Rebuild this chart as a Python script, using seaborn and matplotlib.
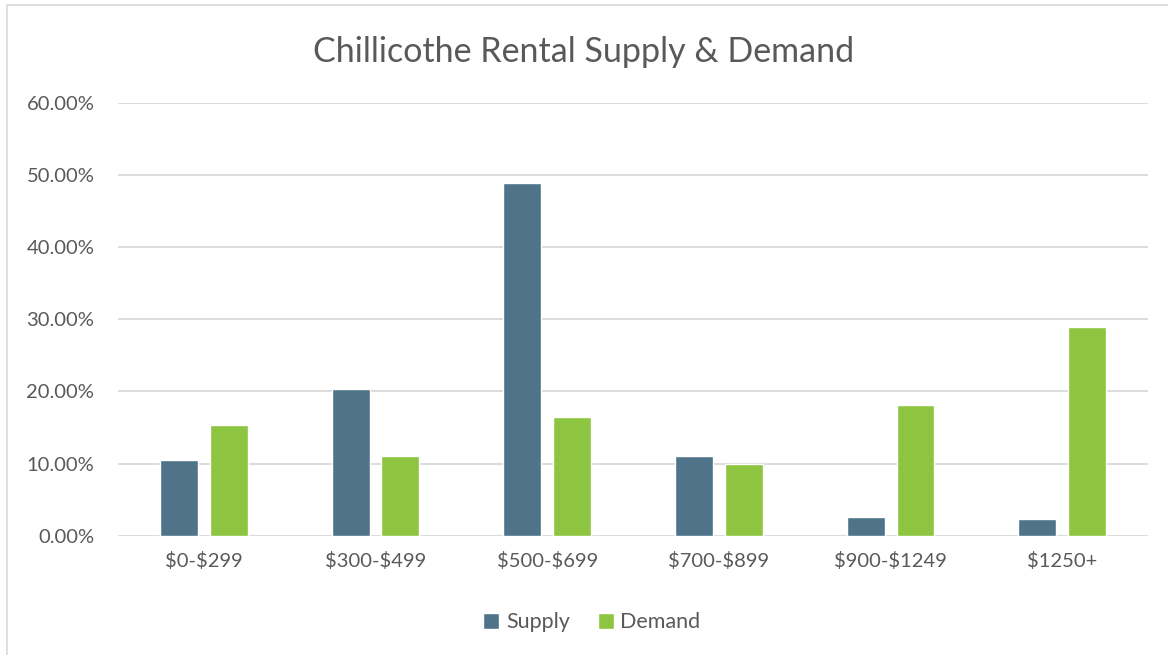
import matplotlib
matplotlib.use("Agg")
import matplotlib.pyplot as plt
import matplotlib.patches as mpatches
import seaborn as sns
import pandas as pd
from matplotlib.ticker import PercentFormatter

# data
price_bands = ["$0-$299", "$300-$499", "$500-$699", "$700-$899", "$900-$1249", "$1250+"]
supply = [0.105, 0.204, 0.489, 0.111, 0.026, 0.023]
demand = [0.154, 0.111, 0.165, 0.100, 0.181, 0.289]
series_names = ["Supply", "Demand"]

df = pd.DataFrame({
    "band": price_bands * 2,
    "share": supply + demand,
    "series": [series_names[0]] * len(price_bands) + [series_names[1]] * len(price_bands),
})

sns.set_theme(style="white")
plt.rcParams["font.family"] = ["Lato", "DejaVu Sans"]
text_color = "#595959"

fig = plt.figure(figsize=(11.68, 6.55), dpi=100)
ax = fig.add_axes([0.101, 0.182, 0.882, 0.661])

sns.barplot(data=df, x="band", y="share", hue="series",
            palette=["#4f7489", "#8dc540"], saturation=1, width=0.58, gap=0.24,
            ax=ax, legend=True)

ax.set_ylim(0, 0.6)
ax.set_yticks([0, 0.1, 0.2, 0.3, 0.4, 0.5, 0.6])
ax.yaxis.set_major_formatter(PercentFormatter(1.0, decimals=2))
ax.grid(axis="y", color="#d9d9d9", linewidth=1.3)
ax.set_axisbelow(True)
for s in ax.spines.values():
    s.set_visible(False)
ax.set_xlabel("")
ax.set_ylabel("")
# dollar signs are plain text, not mathtext
ax.set_xticks(range(len(price_bands)))
ax.set_xticklabels(price_bands, parse_math=False)
ax.tick_params(axis="both", length=0, labelsize=14.5, labelcolor=text_color)
ax.tick_params(axis="x", pad=12)
ax.tick_params(axis="y", pad=17)

fig.suptitle("Chillicothe Rental Supply & Demand", y=0.945, fontsize=24.5, color=text_color)

handles, labels = ax.get_legend_handles_labels()
ax.legend(handles, labels, loc="center", bbox_to_anchor=(0.46, -0.2), ncol=2,
          frameon=False, fontsize=15.5, labelcolor=text_color, handlelength=0.75,
          handleheight=0.75, handletextpad=0.3, columnspacing=1.3)

# light chart border like the original
fig.patches.append(mpatches.Rectangle((0.006, -0.05), 1.0, 1.042, transform=fig.transFigure,
                                      fill=False, edgecolor="#d9d9d9", linewidth=1.2))

fig.savefig("out.png", dpi=100)
